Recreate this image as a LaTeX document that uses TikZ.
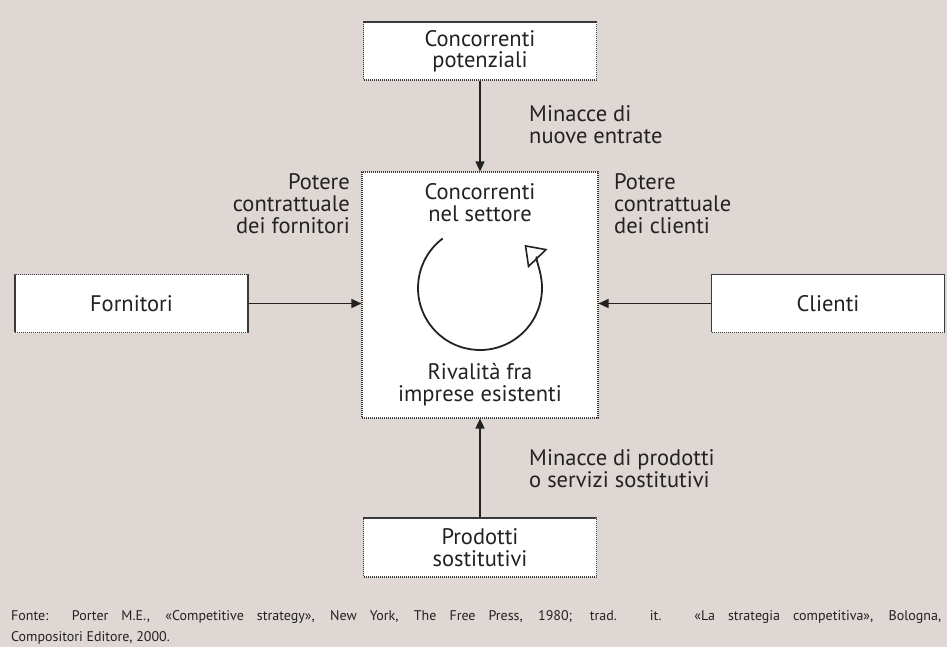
\documentclass[tikz,border=0pt]{standalone}
\usepackage{fontspec}
\setmainfont{PT Sans}
\newfontfamily\footfont{PT Sans}
\usetikzlibrary{arrows.meta,calc}
\definecolor{bgc}{HTML}{DED7D4}
\definecolor{ink}{HTML}{222222}
\definecolor{dotc}{HTML}{3A3A3A}
\tikzset{
  boxnode/.style={draw=dotc, fill=white, line width=1.1pt, dash pattern=on 1.1pt off 0.9pt,
    minimum width=233pt, minimum height=58pt, inner sep=0pt, align=center,
    font=\fontsize{22.5}{21.5}\selectfont, text=ink},
  lbl/.style={inner sep=0pt, font=\fontsize{22.5}{22}\selectfont, text=ink},
  arr/.style={draw=ink, line width=1.3pt, -{Triangle[length=10pt,width=9pt]}},
}
\begin{document}
\begin{tikzpicture}[x=1pt,y=-1pt]
\useasboundingbox (0,0) rectangle (947,647);
\fill[bgc] (0,0) rectangle (947,647);
% boxes
\node[boxnode] (top) at (480,51) {Concorrenti\\potenziali};
\node[boxnode, minimum width=236pt, minimum height=246pt] (mid) at (480,295) {};
\node[boxnode] (forn) at (131.5,303.5) {Fornitori};
\node[boxnode] (cli) at (828,303.5) {Clienti};
\node[boxnode, minimum height=59pt] (bot) at (480,547.5) {Prodotti\\sostitutivi};
% texts in center box
\node[lbl, align=center] (midtitle) at (480,203) {Concorrenti\\nel settore};
\node[lbl, align=center] (midsub) at (480,385) {Rivalità fra\\imprese esistenti};
% circular arrow
\coordinate (cc) at (480,288);
\draw[ink, line width=1.8pt, -{Triangle[open, length=19pt, width=27pt, line width=1.6pt]}]
  (cc) ++(127:62pt) arc[start angle=127, end angle=404, radius=62pt];
% labels
\node[lbl, align=left, anchor=west] (lblnew) at (529,125) {Minacce di\\nuove entrate};
\node[lbl, align=right, anchor=east] (lblforn) at (350,204) {Potere\\contrattuale\\dei fornitori};
\node[lbl, align=left, anchor=west] (lblcli) at (614,204) {Potere\\contrattuale\\dei clienti};
\node[lbl, align=left, anchor=west] (lblsost) at (529,469) {Minacce di prodotti\\o servizi sostitutivi};
% arrows
\draw[arr] (top.south) -- (mid.north);
\draw[arr] (forn.east) -- (forn.east -| mid.west);
\draw[arr] (cli.west) -- (cli.west -| mid.east);
\draw[arr] (bot.north) -- (mid.south);
% footer
\node[inner sep=0pt, anchor=north west, text width=930pt, align=justify, text=ink,
  font=\footfont\fontsize{14}{21.5}\selectfont] (foot) at (11,610)
  {Fonte: Porter M.E., «Competitive strategy», New York, The Free Press, 1980; trad. it. «La strategia competitiva», Bologna,\linebreak Compositori Editore, 2000.};
\end{tikzpicture}
\end{document}
